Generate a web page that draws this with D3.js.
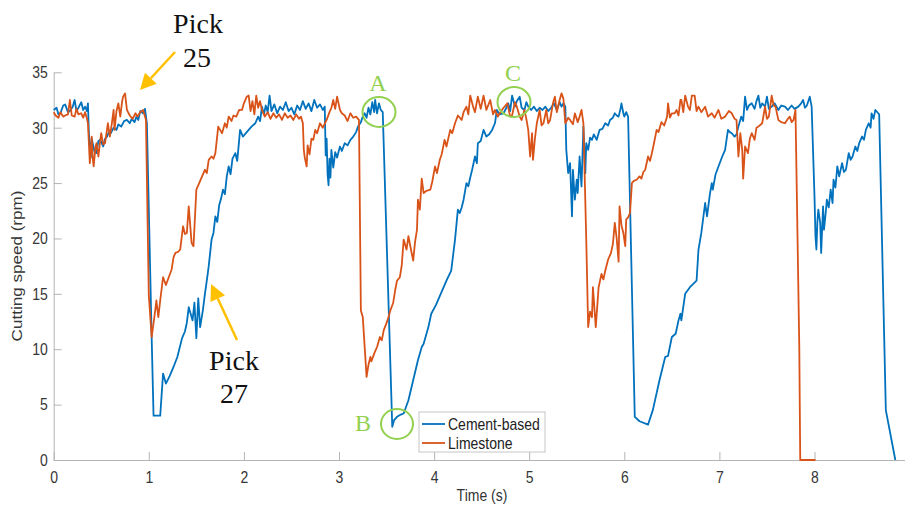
<html>
<head>
<script src="https://d3js.org/d3.v7.min.js"></script>
<style>
  body { margin: 0; background: #fff; }
  .tick text { font-family: "Liberation Sans", Arial, sans-serif; }
</style>
</head>
<body>
<svg id="chart" width="905" height="506"></svg>
<script>
// tick values
var xTicks = [0, 1, 2, 3, 4, 5, 6, 7, 8];
var yTicks = [0, 5, 10, 15, 20, 25, 30, 35];

// Cement-based (blue) - time (s) and cutting speed (rpm)
var cementTime = [0, 0.03, 0.05, 0.07, 0.10, 0.12, 0.15, 0.17, 0.20, 0.22, 0.24, 0.26, 0.29, 0.31, 0.33, 0.35, 0.36, 0.37, 0.38, 0.39,
  0.40, 0.41, 0.43, 0.45, 0.47, 0.49, 0.52, 0.54, 0.56, 0.58, 0.60, 0.63, 0.66, 0.68, 0.71, 0.74, 0.77, 0.80, 0.82, 0.85,
  0.87, 0.89, 0.91, 0.94, 0.96, 0.98, 1.03, 1.05, 1.12, 1.15, 1.18, 1.22, 1.26, 1.30, 1.35, 1.38, 1.40, 1.42, 1.44, 1.46,
  1.48, 1.50, 1.52, 1.54, 1.57, 1.59, 1.61, 1.63, 1.66, 1.68, 1.70, 1.72, 1.74, 1.76, 1.78, 1.80, 1.82, 1.84, 1.86, 1.88,
  1.91, 1.93, 1.96, 1.99, 2.03, 2.08, 2.12, 2.15, 2.17, 2.19, 2.21, 2.23, 2.25, 2.27, 2.29, 2.32, 2.35, 2.38, 2.41, 2.44,
  2.47, 2.50, 2.53, 2.56, 2.59, 2.62, 2.65, 2.68, 2.71, 2.74, 2.77, 2.80, 2.83, 2.85, 2.86, 2.87, 2.88, 2.89, 2.90, 2.91,
  2.92, 2.94, 2.96, 2.98, 3.01, 3.03, 3.06, 3.09, 3.12, 3.15, 3.18, 3.20, 3.23, 3.25, 3.27, 3.29, 3.31, 3.33, 3.35, 3.37,
  3.38, 3.40, 3.42, 3.44, 3.46, 3.56, 3.58, 3.61, 3.65, 3.68, 3.73, 3.78, 3.83, 3.87, 3.89, 3.94, 3.97, 4.02, 4.08, 4.13,
  4.18, 4.22, 4.25, 4.27, 4.29, 4.31, 4.34, 4.36, 4.38, 4.40, 4.43, 4.45, 4.46, 4.49, 4.52, 4.55, 4.58, 4.61, 4.64, 4.66,
  4.69, 4.73, 4.76, 4.78, 4.80, 4.82, 4.85, 4.87, 4.90, 4.92, 4.95, 4.97, 4.99, 5.02, 5.05, 5.08, 5.11, 5.14, 5.17, 5.20,
  5.23, 5.26, 5.29, 5.32, 5.34, 5.36, 5.38, 5.39, 5.41, 5.43, 5.45, 5.46, 5.48, 5.50, 5.51, 5.53, 5.55, 5.57, 5.59, 5.60,
  5.62, 5.64, 5.66, 5.68, 5.71, 5.74, 5.77, 5.80, 5.83, 5.85, 5.88, 5.90, 5.92, 5.94, 5.96, 5.97, 5.99, 6.00, 6.02, 6.04,
  6.11, 6.16, 6.25, 6.30, 6.37, 6.43, 6.46, 6.50, 6.54, 6.57, 6.59, 6.60, 6.64, 6.69, 6.76, 6.78, 6.81, 6.85, 6.87, 6.90,
  6.92, 6.93, 6.96, 6.99, 7.03, 7.06, 7.09, 7.11, 7.13, 7.16, 7.18, 7.20, 7.23, 7.25, 7.27, 7.29, 7.31, 7.34, 7.37, 7.39,
  7.41, 7.43, 7.45, 7.48, 7.50, 7.52, 7.55, 7.58, 7.62, 7.65, 7.69, 7.72, 7.76, 7.79, 7.83, 7.86, 7.88, 7.90, 7.92, 7.95,
  7.97, 8.00, 8.01, 8.02, 8.03, 8.04, 8.06, 8.07, 8.09, 8.10, 8.12, 8.13, 8.15, 8.17, 8.19, 8.20, 8.22, 8.24, 8.26, 8.29,
  8.31, 8.33, 8.36, 8.38, 8.40, 8.43, 8.45, 8.47, 8.50, 8.52, 8.54, 8.57, 8.59, 8.60, 8.62, 8.64, 8.67, 8.68, 8.75, 8.85];
var cementSpeed = [31.6, 31.8, 31.2, 31.3, 32.0, 32.1, 31.4, 31.5, 31.9, 32.5, 31.5, 31.8, 32.3, 31.6, 31.9, 31.5, 32.2, 29.5, 28.4, 27.3,
  29.0, 28.6, 27.8, 27.7, 28.8, 28.9, 28.3, 29.0, 29.2, 29.6, 29.5, 30.0, 29.8, 30.3, 30.1, 30.6, 30.7, 30.4, 30.8, 30.5,
  31.0, 30.7, 31.5, 31.3, 31.7, 30.4, 11.1, 4.0, 4.0, 7.8, 6.9, 7.6, 8.4, 9.3, 11.0, 11.6, 12.4, 13.8, 13.2, 12.6,
  14.2, 11.0, 14.6, 12.0, 13.6, 15.0, 16.2, 17.5, 19.9, 20.5, 22.0, 21.5, 23.0, 23.6, 24.4, 24.0, 25.6, 26.5, 25.8, 27.2,
  27.7, 27.0, 29.8, 29.2, 29.6, 30.1, 30.4, 31.0, 30.6, 31.9, 31.2, 32.0, 31.4, 32.9, 31.5, 32.1, 31.3, 31.9, 31.6, 32.3,
  31.5, 31.8, 31.2, 32.0, 31.6, 32.4, 31.7, 32.2, 31.5, 32.5, 31.8, 32.1, 31.6, 31.9, 27.5, 29.0, 25.8, 24.8, 27.2, 25.5,
  28.0, 26.4, 27.8, 27.3, 28.3, 27.9, 28.6, 28.4, 28.9, 29.2, 29.6, 30.1, 30.5, 31.0, 31.3, 30.9, 31.8, 31.2, 32.3, 31.4,
  32.5, 31.3, 32.2, 31.6, 31.4, 3.0, 3.6, 3.9, 4.1, 4.2, 5.4, 7.2, 9.0, 10.2, 10.5, 12.0, 13.2, 14.0, 15.2, 16.2,
  17.1, 19.9, 22.6, 22.3, 22.8, 23.5, 25.0, 24.7, 25.5, 26.2, 27.4, 26.8, 28.6, 28.8, 29.8, 29.2, 29.4, 29.8, 30.4, 31.6,
  31.2, 31.3, 31.8, 32.2, 31.5, 32.9, 31.9, 32.4, 32.8, 31.8, 31.6, 32.3, 31.9, 31.6, 31.9, 31.5, 31.8, 31.6, 31.9, 31.5,
  31.8, 32.2, 31.6, 32.3, 31.9, 32.2, 31.9, 28.0, 25.9, 26.8, 22.0, 26.2, 23.5, 25.3, 24.1, 27.4, 24.7, 30.1, 25.9, 28.6,
  28.0, 29.1, 28.9, 29.4, 28.9, 29.8, 29.9, 30.4, 30.2, 30.7, 30.9, 31.3, 31.1, 31.0, 31.7, 32.2, 31.3, 31.0, 31.4, 31.0,
  3.9, 3.5, 3.2, 4.5, 7.2, 9.3, 9.4, 11.1, 11.4, 12.6, 13.2, 12.6, 15.0, 15.6, 16.2, 19.0, 20.5, 23.2, 22.0, 24.0,
  25.0, 24.4, 25.8, 26.5, 27.4, 28.0, 29.8, 29.6, 29.5, 29.2, 29.4, 30.1, 31.0, 30.6, 32.8, 31.6, 32.0, 32.2, 31.7, 32.4,
  32.9, 31.8, 32.2, 31.9, 32.8, 31.7, 31.9, 32.2, 31.6, 32.0, 31.9, 31.6, 32.0, 31.7, 31.9, 32.2, 32.5, 31.8, 32.0, 32.8,
  31.9, 23.8, 20.2, 19.0, 21.5, 22.6, 21.4, 18.7, 22.9, 20.8, 22.5, 23.5, 22.8, 24.4, 23.2, 25.3, 24.6, 26.5, 25.6, 26.8,
  26.0, 26.2, 27.7, 27.1, 27.4, 28.3, 27.9, 28.6, 29.2, 28.9, 29.8, 30.4, 30.0, 31.3, 30.8, 31.6, 31.3, 31.2, 4.5, 0];

// Limestone (orange)
var limeTime = [0, 0.02, 0.05, 0.07, 0.10, 0.12, 0.15, 0.17, 0.19, 0.22, 0.24, 0.26, 0.29, 0.31, 0.33, 0.35, 0.36, 0.38, 0.40, 0.41,
  0.42, 0.44, 0.45, 0.47, 0.49, 0.50, 0.52, 0.54, 0.56, 0.57, 0.59, 0.61, 0.63, 0.64, 0.66, 0.68, 0.70, 0.72, 0.73, 0.75,
  0.77, 0.80, 0.83, 0.86, 0.88, 0.91, 0.94, 0.97, 1.00, 1.03, 1.06, 1.08, 1.10, 1.12, 1.15, 1.18, 1.21, 1.24, 1.26, 1.28,
  1.31, 1.33, 1.36, 1.38, 1.40, 1.42, 1.45, 1.47, 1.50, 1.53, 1.56, 1.59, 1.61, 1.63, 1.66, 1.68, 1.70, 1.73, 1.75, 1.77,
  1.80, 1.82, 1.84, 1.87, 1.89, 1.92, 1.95, 1.98, 2.00, 2.03, 2.05, 2.07, 2.09, 2.11, 2.13, 2.15, 2.17, 2.19, 2.22, 2.25,
  2.28, 2.31, 2.34, 2.37, 2.40, 2.43, 2.46, 2.49, 2.52, 2.55, 2.58, 2.60, 2.62, 2.63, 2.64, 2.66, 2.67, 2.69, 2.71, 2.73,
  2.75, 2.77, 2.80, 2.83, 2.87, 2.90, 2.92, 2.94, 2.96, 2.98, 3.01, 3.03, 3.06, 3.09, 3.12, 3.15, 3.18, 3.21, 3.23, 3.25,
  3.29, 3.31, 3.33, 3.34, 3.37, 3.40, 3.43, 3.45, 3.47, 3.51, 3.54, 3.57, 3.59, 3.61, 3.64, 3.66, 3.68, 3.71, 3.73, 3.75,
  3.78, 3.80, 3.82, 3.83, 3.85, 3.87, 3.89, 3.92, 3.96, 3.98, 4.01, 4.03, 4.06, 4.08, 4.11, 4.13, 4.17, 4.19, 4.22, 4.25,
  4.29, 4.31, 4.34, 4.36, 4.38, 4.41, 4.43, 4.46, 4.49, 4.52, 4.55, 4.59, 4.62, 4.64, 4.67, 4.69, 4.73, 4.77, 4.80, 4.82,
  4.85, 4.87, 4.90, 4.92, 4.95, 4.97, 4.99, 5.01, 5.03, 5.04, 5.06, 5.08, 5.11, 5.13, 5.15, 5.18, 5.20, 5.22, 5.25, 5.27,
  5.29, 5.32, 5.34, 5.36, 5.38, 5.41, 5.43, 5.46, 5.48, 5.51, 5.53, 5.55, 5.57, 5.60, 5.62, 5.64, 5.66, 5.67, 5.70, 5.73,
  5.76, 5.78, 5.80, 5.83, 5.86, 5.88, 5.90, 5.92, 5.94, 5.95, 5.97, 5.99, 6.01, 6.02, 6.04, 6.06, 6.08, 6.10, 6.13, 6.16,
  6.18, 6.20, 6.22, 6.25, 6.27, 6.29, 6.31, 6.34, 6.36, 6.39, 6.42, 6.45, 6.46, 6.48, 6.50, 6.53, 6.55, 6.57, 6.59, 6.60,
  6.62, 6.64, 6.67, 6.69, 6.71, 6.74, 6.76, 6.78, 6.81, 6.85, 6.88, 6.92, 6.95, 6.99, 7.02, 7.06, 7.10, 7.13, 7.16, 7.18,
  7.20, 7.22, 7.24, 7.25, 7.27, 7.30, 7.32, 7.34, 7.37, 7.39, 7.41, 7.45, 7.48, 7.50, 7.52, 7.55, 7.57, 7.59, 7.62, 7.65,
  7.69, 7.72, 7.74, 7.76, 7.78, 7.80, 7.84, 7.85, 8.01];
var limeSpeed = [31.4, 31.1, 30.9, 31.4, 31.0, 31.1, 31.2, 32.5, 31.1, 31.0, 31.7, 31.2, 31.3, 30.9, 31.4, 30.8, 30.4, 26.8, 29.2, 27.3,
  26.5, 28.3, 28.6, 27.4, 28.9, 29.5, 28.5, 28.6, 29.8, 30.4, 29.2, 30.3, 31.6, 29.8, 31.5, 32.2, 31.0, 32.4, 32.8, 33.1,
  31.6, 31.1, 30.8, 31.3, 31.0, 31.4, 31.6, 30.7, 14.9, 11.1, 13.0, 14.4, 12.9, 14.4, 16.5, 15.8, 16.5, 17.2, 18.3, 18.7,
  18.8, 19.0, 21.1, 20.4, 20.5, 22.9, 19.6, 19.3, 24.4, 25.0, 25.6, 26.2, 25.9, 27.1, 27.4, 27.2, 27.7, 30.1, 29.8, 29.5,
  30.4, 30.0, 31.0, 30.6, 31.1, 31.0, 31.6, 31.6, 32.2, 32.8, 32.9, 31.5, 32.4, 31.2, 32.9, 31.8, 32.4, 31.6, 31.0, 31.4,
  30.8, 31.3, 30.9, 31.2, 30.7, 31.3, 30.9, 31.1, 30.7, 31.2, 30.8, 31.0, 30.4, 28.0, 27.3, 26.5, 28.4, 27.6, 29.0, 28.9,
  29.8, 29.5, 30.4, 30.0, 30.7, 31.4, 31.8, 32.5, 31.7, 32.8, 31.6, 31.3, 31.1, 30.6, 31.3, 30.9, 31.0, 30.7, 13.5, 12.9,
  7.5, 8.6, 9.3, 8.9, 9.6, 10.2, 11.1, 10.8, 11.7, 12.6, 13.5, 14.2, 15.3, 16.2, 16.5, 17.6, 19.9, 19.0, 20.2, 19.3,
  18.0, 19.7, 20.8, 23.5, 22.6, 25.4, 24.1, 24.3, 24.4, 25.1, 26.5, 25.9, 27.1, 27.6, 28.9, 28.3, 29.8, 29.5, 30.4, 31.1,
  30.7, 31.4, 31.9, 31.2, 32.9, 31.9, 31.4, 32.8, 31.7, 32.9, 31.6, 32.5, 31.2, 31.6, 31.0, 31.3, 31.8, 32.2, 31.0, 31.1,
  32.3, 31.9, 31.0, 30.7, 31.6, 30.8, 29.8, 27.4, 29.5, 27.1, 29.0, 30.4, 31.6, 30.2, 30.4, 31.6, 30.4, 30.7, 32.2, 32.8,
  31.4, 32.5, 33.1, 32.6, 30.4, 30.9, 30.7, 30.3, 31.3, 30.5, 31.0, 31.6, 30.4, 19.9, 12.0, 13.4, 12.9, 15.6, 12.0, 15.6,
  16.8, 16.3, 17.1, 18.1, 18.7, 19.5, 21.4, 20.0, 17.9, 22.9, 21.2, 20.5, 19.3, 21.7, 21.9, 22.3, 25.0, 25.2, 25.3, 25.6,
  25.4, 26.0, 26.2, 27.4, 27.0, 27.7, 28.5, 29.8, 29.6, 30.5, 30.2, 31.0, 32.2, 30.9, 31.3, 31.3, 31.6, 31.1, 32.5, 32.5,
  31.4, 32.9, 31.9, 31.6, 32.9, 32.9, 31.5, 31.9, 31.4, 31.9, 31.0, 31.3, 30.9, 31.6, 30.8, 31.0, 31.5, 31.3, 30.8, 30.7,
  27.4, 29.5, 28.0, 25.4, 28.3, 27.7, 29.0, 29.5, 28.9, 30.0, 30.1, 30.4, 31.9, 30.8, 31.0, 32.9, 32.0, 31.9, 30.7, 30.5,
  30.4, 30.8, 31.0, 30.5, 30.7, 31.6, 10.2, 0, 0];

var svg = d3.select("#chart");
var x = d3.scaleLinear().domain([0, 9]).range([53.7, 909.6]);
var y = d3.scaleLinear().domain([0, 35]).range([460, 72.3]);

var axisColor = "#b4b4b4", textColor = "#363636";
var sansFont = '"Liberation Sans", Arial, sans-serif';
var serifFont = '"Liberation Serif", "Times New Roman", serif';

// x axis (ticks point inward like matlab)
var gx = svg.append("g")
    .attr("transform", "translate(0," + y(0) + ")")
    .call(d3.axisBottom(x).tickValues(xTicks).tickSizeInner(-8).tickSizeOuter(0).tickFormat(d3.format("d")));
gx.select(".domain").attr("stroke", axisColor);
gx.selectAll(".tick line").attr("stroke", axisColor);
gx.selectAll(".tick text")
    .attr("fill", textColor)
    .style("font-size", "14px")
    .attr("y", 19.2)
    .attr("dy", 0)
    .attr("transform", "scale(1,1.2)");

// y axis
var gy = svg.append("g")
    .attr("transform", "translate(" + x(0) + ",0)")
    .call(d3.axisLeft(y).tickValues(yTicks).tickSizeInner(-8).tickSizeOuter(0));
gy.select(".domain").attr("stroke", axisColor);
gy.selectAll(".tick line").attr("stroke", axisColor);
gy.selectAll(".tick text")
    .attr("fill", textColor)
    .style("font-size", "14px")
    .attr("x", -6)
    .attr("dy", "0.32em")
    .attr("transform", "scale(1,1.2)");

// axis labels
svg.append("text")
    .attr("transform", "translate(482,501) scale(1,1.2)")
    .attr("text-anchor", "middle")
    .style("font-family", sansFont)
    .style("font-size", "14px")
    .attr("fill", textColor)
    .text("Time (s)");

svg.append("text")
    .attr("transform", "translate(22,266) rotate(-90) scale(1.22,1)")
    .attr("text-anchor", "middle")
    .style("font-family", sansFont)
    .style("font-size", "14px")
    .attr("fill", textColor)
    .text("Cutting speed (rpm)");

// series
var line = d3.line()
    .x(function (d) { return x(d[0]); })
    .y(function (d) { return y(d[1]); });

svg.append("path")
    .datum(d3.zip(cementTime, cementSpeed))
    .attr("fill", "none")
    .attr("stroke", "#0072BD")
    .attr("stroke-width", 1.8)
    .attr("stroke-linejoin", "round")
    .attr("d", line);

svg.append("path")
    .datum(d3.zip(limeTime, limeSpeed))
    .attr("fill", "none")
    .attr("stroke", "#D95319")
    .attr("stroke-width", 1.8)
    .attr("stroke-linejoin", "round")
    .attr("d", line);

// legend
var lg = svg.append("g");
lg.append("rect")
    .attr("x", 419).attr("y", 412).attr("width", 126).attr("height", 40)
    .attr("fill", "#fff").attr("stroke", "#c6c6c6");
var legendItems = [["Cement-based", "#0072BD"], ["Limestone", "#D95319"]];
legendItems.forEach(function (d, i) {
    var ly = 424 + i * 19;
    lg.append("line")
        .attr("x1", 422).attr("x2", 445).attr("y1", ly).attr("y2", ly)
        .attr("stroke", d[1]).attr("stroke-width", 1.8);
    lg.append("text")
        .attr("transform", "translate(448," + (ly + 5.5) + ") scale(1,1.2)")
        .style("font-family", sansFont)
        .style("font-size", "14px")
        .attr("fill", "#222")
        .text(d[0]);
});

// annotations: picks with arrows
var gold = "#FFC000";
function arrow(x1, y1, x2, y2) {
    var a = Math.atan2(y2 - y1, x2 - x1), len = 16, hw = 8;
    var bx = x2 - len * Math.cos(a), by = y2 - len * Math.sin(a);
    svg.append("line")
        .attr("x1", x1).attr("y1", y1).attr("x2", bx).attr("y2", by)
        .attr("stroke", gold).attr("stroke-width", 2.5);
    svg.append("polygon")
        .attr("points", [[x2, y2],
            [bx + hw * Math.sin(a), by - hw * Math.cos(a)],
            [bx - hw * Math.sin(a), by + hw * Math.cos(a)]].map(function (p) { return p.join(","); }).join(" "))
        .attr("fill", gold);
}
arrow(175, 52, 140, 90);
arrow(237, 340, 211, 284);

function serifText(tx, ty, s, size, color) {
    svg.append("text")
        .attr("x", tx).attr("y", ty)
        .attr("text-anchor", "middle")
        .style("font-family", serifFont)
        .style("font-size", size + "px")
        .attr("fill", color)
        .text(s);
}
serifText(198, 33, "Pick", 28, "#111");
serifText(197, 67, "25", 28, "#111");
serifText(234, 370, "Pick", 28, "#111");
serifText(234, 403, "27", 28, "#111");

// A, B, C markers
var green = "#92D050";
serifText(378, 91, "A", 24, green);
serifText(513, 81, "C", 24, green);
serifText(363, 431, "B", 24, green);
[[379, 112, 16.5, 15], [514, 102, 16.5, 15], [397, 424, 16, 15]].forEach(function (c) {
    svg.append("ellipse")
        .attr("cx", c[0]).attr("cy", c[1]).attr("rx", c[2]).attr("ry", c[3])
        .attr("fill", "none").attr("stroke", green).attr("stroke-width", 2);
});
</script>
</body>
</html>
